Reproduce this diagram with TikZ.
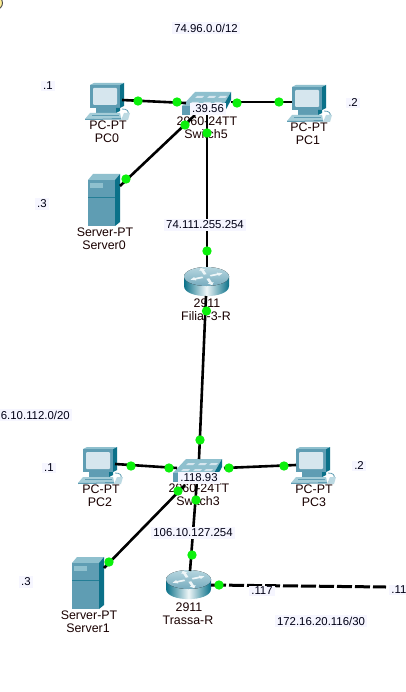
\documentclass[tikz,border=0pt]{standalone}
\usepackage{fontspec}
\setmainfont{Liberation Sans}
\usetikzlibrary{shapes.geometric}
\definecolor{front}{HTML}{5F9DB3}
\definecolor{sidec}{HTML}{0B7189}
\definecolor{topc}{HTML}{8FC0CE}
\definecolor{screenc}{HTML}{D6E6EE}
\definecolor{notebg}{HTML}{F6F6FF}
\definecolor{dotc}{HTML}{0BF00B}
\tikzset{
  x=1pt,y=-1pt,
  link/.style={draw=black,line width=2.6pt},
  trunk/.style={draw=black,line width=3pt,dash pattern=on 15pt off 3pt},
  dotn/.style={circle,fill=dotc,inner sep=0pt,minimum size=9.4pt},
  portn/.style={inner sep=0pt,minimum size=0pt,outer sep=0pt},
  devname/.style={font=\fontsize{12.4}{13}\selectfont,text=black!90!red,inner sep=0pt},
  ipnote/.style={font=\fontsize{11.4}{12}\selectfont,text=black!92!blue,fill=notebg,inner xsep=2.2pt,inner ysep=1.5pt},
  pics/pcicon/.style={code={
    \fill[sidec] (35,2) -- (39,1) -- (39,24) -- (35,26) -- cycle;
    \fill[topc] (5,3) -- (9,1) -- (39,1) -- (35,3) -- cycle;
    \fill[front] (5,3) rectangle (35,26);
    \fill[screenc,rounded corners=1pt] (8,6) rectangle (32,23);
    \fill[front] (11,26) rectangle (31,31);
    \fill[sidec] (31,26) -- (35,26) -- (35,29) -- (31,31) -- cycle;
    \fill[topc!80!white] (5,31) -- (35,31) -- (36,36) -- (0,37) -- cycle;
    \draw[front,line width=.5pt] (7,33.5) -- (34,33.5);
    \fill[front] (0,37) -- (36,36) -- (36,37.5) -- (0,38) -- cycle;
    \draw[front,line width=.8pt] (37,27) .. controls (42,27) and (44,29) .. (43,32);
    \fill[topc!60!white] (39,31) -- (45,31) -- (43,38) -- (36,38) -- cycle;
  }},
  pics/switchicon/.style={code={
    \fill[topc] (0,15) -- (13,1) -- (49,1) -- (41,15) -- cycle;
    \fill[sidec] (41,15) -- (49,1) -- (49,9) -- (41,24) -- cycle;
    \fill[front] (0,15) rectangle (41,24);
    \foreach \a/\b in {10/11,22/11,33/11,15/5,27/5,38/5}
      \fill[screenc] (\a,\b) -- ++(7,0) -- ++(-2,2) -- ++(-7,0) -- cycle;
  }},
  pics/routericon/.style={code={
    \shade[left color=sidec,right color=sidec,middle color=white!85!topc]
      (0,9) -- (0,19) .. controls (0,32.5) and (45,32.5) .. (45,19) -- (45,9) -- cycle;
    \fill[top color=topc!65!white,bottom color=front!85!white] (22.5,9.5) ellipse[x radius=22.5,y radius=9.5];
    \foreach \a in {20,110,200,290}
      \fill[white!85!topc,shift={(22.5,9.5)},xscale=1,yscale=.55,rotate=\a]
        (4,-1.5) -- (12,-1.5) -- (12,-3.2) -- (17,0) -- (12,3.2) -- (12,1.5) -- (4,1.5) -- cycle;
  }},
  pics/servericon/.style={code={
    \fill[topc] (0,6) -- (5,0) -- (32,0) -- (27,6) -- cycle;
    \fill[sidec] (27,6) -- (32,0) -- (32,48) -- (27,52) -- cycle;
    \fill[front] (0,6) rectangle (27,52);
    \fill[topc] (2,9) rectangle (15,14);
    \draw[sidec!70!front,line width=.5pt] (0,23) -- (27,23);
  }},
}
\begin{document}
\begin{tikzpicture}
\useasboundingbox (0,0) rectangle (405,692);
\fill[white] (0,0) rectangle (405,692);
\begin{scope}
  \clip (0,0) rectangle (405,692);
  \fill[yellow!35!white!90!orange,draw=black!70,line width=.9pt] (-4,3) circle[radius=6.5];
\end{scope}

% device icons
\pic at (85,82) {pcicon};
\pic at (287,84) {pcicon};
\pic at (78,446) {pcicon};
\pic at (291,446) {pcicon};
\pic at (182,91) {switchicon};
\pic at (173,458) {switchicon};
\pic at (184,267) {routericon};
\pic at (166,570) {routericon};
\pic at (88,174) {servericon};
\pic at (72,557) {servericon};

% device names
\node[devname] (t1) at (108,125) {PC-PT};
\node[devname] (t2) at (107,138) {PC0};
\node[devname] (t3) at (309,127) {PC-PT};
\node[devname] (t4) at (308,140) {PC1};
\node[devname] (t5) at (105,232) {Server-PT};
\node[devname] (t6) at (104,245) {Server0};
\node[devname] (t7) at (207,121) {2960-24TT};
\node[devname] (t8) at (206,134) {Switch5};
\node[devname] (t9) at (207,303) {2911};
\node[devname] (t10) at (206,316) {Filial-3-R};
\node[devname] (t11) at (101,489) {PC-PT};
\node[devname] (t12) at (100,502) {PC2};
\node[devname] (t13) at (314,489) {PC-PT};
\node[devname] (t14) at (314,502) {PC3};
\node[devname] (t15) at (89,615) {Server-PT};
\node[devname] (t16) at (88,628) {Server1};
\node[devname] (t17) at (199,488) {2960-24TT};
\node[devname] (t18) at (198,501) {Switch3};
\node[devname] (t19) at (189,607) {2911};
\node[devname] (t20) at (188,620) {Trassa-R};

% connector ends
\node[portn] (pc0p) at (122,100) {};
\node[portn] (pc1p) at (292,102) {};
\node[portn] (srv0p) at (120,186) {};
\node[portn] (sw5l) at (186,103) {};
\node[portn] (sw5r) at (231,102) {};
\node[portn] (sw5d) at (195,115) {};
\node[portn] (sw5b) at (207,115) {};
\node[portn] (filt) at (207,267) {};
\node[portn] (filb) at (206,296) {};
\node[portn] (sw3t) at (199,459) {};
\node[portn] (pc2p) at (115,464) {};
\node[portn] (pc3p) at (296,465) {};
\node[portn] (sw3l) at (177,468) {};
\node[portn] (sw3r) at (224,468) {};
\node[portn] (sw3d) at (185,485) {};
\node[portn] (sw3b) at (197,480) {};
\node[portn] (srv1p) at (104,568) {};
\node[portn] (trat) at (190,571) {};
\node[portn] (trar) at (211,585) {};
\node[portn] (farend) at (386,587) {};

% connectors
\draw[link] (pc0p) -- (sw5l);
\draw[link] (sw5r) -- (pc1p);
\draw[link] (srv0p) -- (sw5d);
\draw[link] (sw5b) -- (filt);
\draw[link] (filb) -- (sw3t);
\draw[link] (pc2p) -- (sw3l);
\draw[link] (sw3r) -- (pc3p);
\draw[link] (srv1p) -- (sw3d);
\draw[link] (sw3b) -- (trat);
\draw[trunk] (trar) -- (farend);

% link lights
\foreach \n/\p in {a/{138,101},b/{177,102},c/{237,103},d/{279,102},e/{126,179},f/{185,125},
                   g/{207,133},h/{207,251},i/{206.5,311},j/{200,440},k/{131,466},l/{169,468},
                   m/{229,468},n/{284,466},o/{109,562},p/{178,491},q/{196,500},r/{192,555},s/{219,585}}
  \node[dotn] (dot\n) at (\p) {};

% notes
\node[ipnote] (n1) at (206,28) {74.96.0.0/12};
\node[ipnote] (n2) at (48,86) {.1};
\node[ipnote] (n3) at (353,103) {.2};
\node[ipnote] (n4) at (42,204) {.3};
\node[ipnote] (n5) at (208,109) {.39.56};
\node[ipnote] (n6) at (205,225) {74.111.255.254};
\node[ipnote,anchor=west] (n7) at (-1.5,415) {6.10.112.0/20};
\node[ipnote] (n8) at (49,468) {.1};
\node[ipnote] (n9) at (359,466) {.2};
\node[ipnote] (n10) at (199,478) {.118.93};
\node[ipnote] (n11) at (193,533) {106.10.127.254};
\node[ipnote] (n12) at (26,582) {.3};
\node[ipnote] (n13) at (262,591) {.117};
\node[ipnote,anchor=west] (n14) at (389,590) {.11};
\node[ipnote] (n15) at (321,621) {172.16.20.116/30};
\end{tikzpicture}
\end{document}
